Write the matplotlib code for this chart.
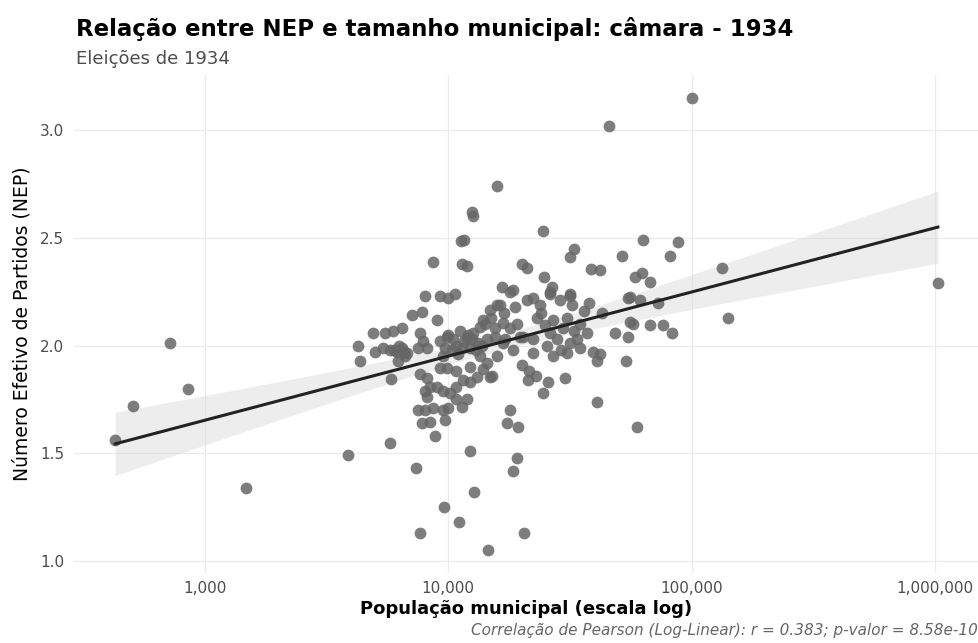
import numpy as np
import matplotlib.pyplot as plt
from matplotlib.ticker import FixedLocator, FuncFormatter

plt.rcParams['font.family'] = ['DejaVu Sans']

# municipal population (1934) and effective number of parties
populacao = [
    427, 506, 718, 851, 1475, 3870, 5760,
    4260, 4340, 4900, 5500, 5930, 6450, 5000, 5400, 5760, 6150, 6450, 6770,
    6210, 6640, 5800, 7100, 7800, 9000, 7660, 7870, 8170, 7500,
    8650, 8020, 9250, 9970, 10670, 11270, 11600, 11400, 11900, 12500, 12600, 15800,
    9250, 9900, 10500, 11200, 11900, 12600, 13500, 13900, 14800, 15800,
    16800, 17900, 19100, 20300, 9700, 10400, 11400, 12300, 13200, 14400,
    15600, 17100, 16600, 18450, 20100, 21000,
    7660, 8170, 8000, 8170, 8400, 9000, 9500, 10200, 10800, 11500, 12300,
    13100, 13900, 14800, 10800, 11900, 10800, 9900, 12300, 13500, 14400,
    15800, 9250, 15100, 7500, 8000, 8650, 9500, 9970, 11400, 7800, 8400, 9700,
    8830, 7360, 7660, 9600, 11100, 12800, 12300, 14600, 20500, 19100, 18400,
    16300, 17900, 21000, 23800, 26200, 28700, 31600, 32200, 23100, 25000,
    30700, 34700, 37100, 28000, 31600, 26200, 34700, 39200, 42100, 16800,
    18500, 22300, 26900, 30700, 33700, 22300, 19700, 20100, 21300, 25700,
    24500, 30200, 17900, 17400, 19300, 40800, 53700, 40800, 59700,
    24500, 24700, 26700, 26200, 31600, 22300, 32900, 31600, 38600, 42100,
    51700, 63100, 87900, 81400, 58500, 62500, 67500, 55800, 54800, 61400,
    72800, 42900, 55800, 57500, 67500, 76200, 83000, 48400, 54800,
    45700, 100000, 133000, 141000, 1030000,
    # overlapping points inside the dense blobs
    6000, 6300, 6600, 10800, 11600, 12500, 13000, 11000, 12000, 13800,
    10000, 9500, 14200, 15000, 15500, 24000, 27000, 29500, 25500, 29000,
    33000, 36000, 38000, 21500, 23000, 17000, 18800,
]
nep = [
    1.56, 1.72, 2.01, 1.80, 1.34, 1.49, 1.55,
    2.00, 1.93, 2.06, 2.06, 2.07, 2.08, 1.97, 1.99, 1.98, 1.97, 1.99, 1.965,
    1.93, 1.95, 1.845, 2.14, 2.155, 2.12, 2.06, 2.02, 1.99, 1.99,
    2.39, 2.23, 2.23, 2.22, 2.24, 2.485, 2.49, 2.38, 2.37, 2.62, 2.60, 2.74,
    2.02, 2.04, 2.03, 2.07, 2.035, 2.06, 2.085, 2.12, 2.165, 2.19,
    2.105, 2.08, 2.10, 2.04, 1.99, 1.98, 1.99, 1.99, 2.01, 2.03,
    2.04, 2.03, 2.27, 2.26, 2.38, 2.36,
    1.87, 1.85, 1.79, 1.76, 1.81, 1.81, 1.79, 1.78, 1.81, 1.84, 1.83,
    1.855, 1.89, 1.855, 1.75, 1.75, 1.88, 1.895, 1.90, 1.95, 1.92,
    1.95, 1.895, 1.86, 1.70, 1.70, 1.71, 1.70, 1.71, 1.715, 1.64, 1.645, 1.655,
    1.58, 1.43, 1.13, 1.25, 1.18, 1.32, 1.51, 1.05, 1.13, 1.48, 1.42,
    2.19, 2.25, 2.21, 2.19, 2.24, 2.21, 2.23, 2.19, 2.13, 2.095,
    2.13, 2.10, 2.06, 2.03, 2.01, 2.06, 1.99, 1.97, 1.96, 2.01,
    1.98, 1.965, 1.95, 1.965, 2.03, 2.03, 2.04, 1.91, 1.84, 1.83,
    1.78, 1.85, 1.70, 1.64, 1.62, 1.93, 1.93, 1.74, 1.62,
    2.53, 2.32, 2.27, 2.25, 2.24, 2.22, 2.45, 2.41, 2.355, 2.35,
    2.415, 2.49, 2.48, 2.415, 2.32, 2.335, 2.295, 2.225, 2.22, 2.21,
    2.20, 2.15, 2.11, 2.10, 2.095, 2.095, 2.06, 2.06, 2.04,
    3.02, 3.15, 2.36, 2.13, 2.29,
    1.98, 2.00, 1.97, 2.00, 2.02, 2.03, 1.98, 1.96, 2.05, 2.00,
    2.05, 1.95, 2.10, 2.13, 2.08, 2.15, 2.12, 2.08, 2.00, 1.98,
    2.07, 2.16, 2.20, 1.88, 1.86, 2.15, 2.18,
]

x_ticks = [1000, 10000, 100000, 1000000]
y_ticks = [1.0, 1.5, 2.0, 2.5, 3.0]

pop = np.array(populacao, dtype=float)
y = np.array(nep)
lx = np.log10(pop)

# linear fit on log10(pop) with 95% confidence band (like geom_smooth(method="lm"))
b, a = np.polyfit(lx, y, 1)
n = len(lx)
resid = y - (a + b * lx)
s = np.sqrt(np.sum(resid ** 2) / (n - 2))
xg = np.linspace(lx.min(), lx.max(), 200)
yg = a + b * xg
se = s * np.sqrt(1 / n + (xg - lx.mean()) ** 2 / np.sum((lx - lx.mean()) ** 2))
t = 1.97

fig = plt.figure(figsize=(9.79, 6.43), dpi=100)
ax = fig.add_axes([0.0756, 0.109, 0.9244, 0.774])

ax.fill_between(10 ** xg, yg - t * se, yg + t * se, color='#d9d9d9', alpha=0.45,
                linewidth=0, zorder=1)
ax.scatter(pop, y, s=72, color='#666666', alpha=0.85, linewidths=0, zorder=2)
ax.plot(10 ** xg, yg, color='#222222', linewidth=2.2, zorder=3)

ax.set_xscale('log')
xr = lx.max() - lx.min()
ax.set_xlim(10 ** (lx.min() - 0.05 * xr), 10 ** (lx.max() + 0.05 * xr))
yr = y.max() - y.min()
ax.set_ylim(y.min() - 0.05 * yr, y.max() + 0.05 * yr)

ax.xaxis.set_major_locator(FixedLocator(x_ticks))
ax.xaxis.set_minor_locator(FixedLocator([]))
ax.xaxis.set_major_formatter(FuncFormatter(lambda v, p: f'{int(round(v)):,}'))
ax.set_yticks(y_ticks)
ax.yaxis.set_major_formatter(FuncFormatter(lambda v, p: f'{v:.1f}'))

ax.grid(True, color='#ebebeb', linewidth=0.9)
ax.set_axisbelow(True)
for sp in ax.spines.values():
    sp.set_visible(False)
ax.tick_params(axis='y', length=0, labelsize=11, labelcolor='#4d4d4d', pad=7)
ax.tick_params(axis='x', length=0, labelsize=11, labelcolor='#4d4d4d', pad=6)

ax.set_xlabel('População municipal (escala log)', fontsize=13, fontweight='bold',
              labelpad=3)
ax.set_ylabel('Número Efetivo de Partidos (NEP)', fontsize=13.5, labelpad=6)

fig.text(0.0776, 0.944, 'Relação entre NEP e tamanho municipal: câmara - 1934',
         fontsize=16.5, fontweight='bold', ha='left', va='baseline')
fig.text(0.0776, 0.901, 'Eleições de 1934', fontsize=13, color='#4d4d4d',
         ha='left', va='baseline')
fig.text(0.999, 0.012,
         'Correlação de Pearson (Log-Linear): r = 0.383; p-valor = 8.58e-10',
         fontsize=11, style='italic', color='#666666', ha='right', va='baseline')

fig.savefig('out.png', dpi=100)
